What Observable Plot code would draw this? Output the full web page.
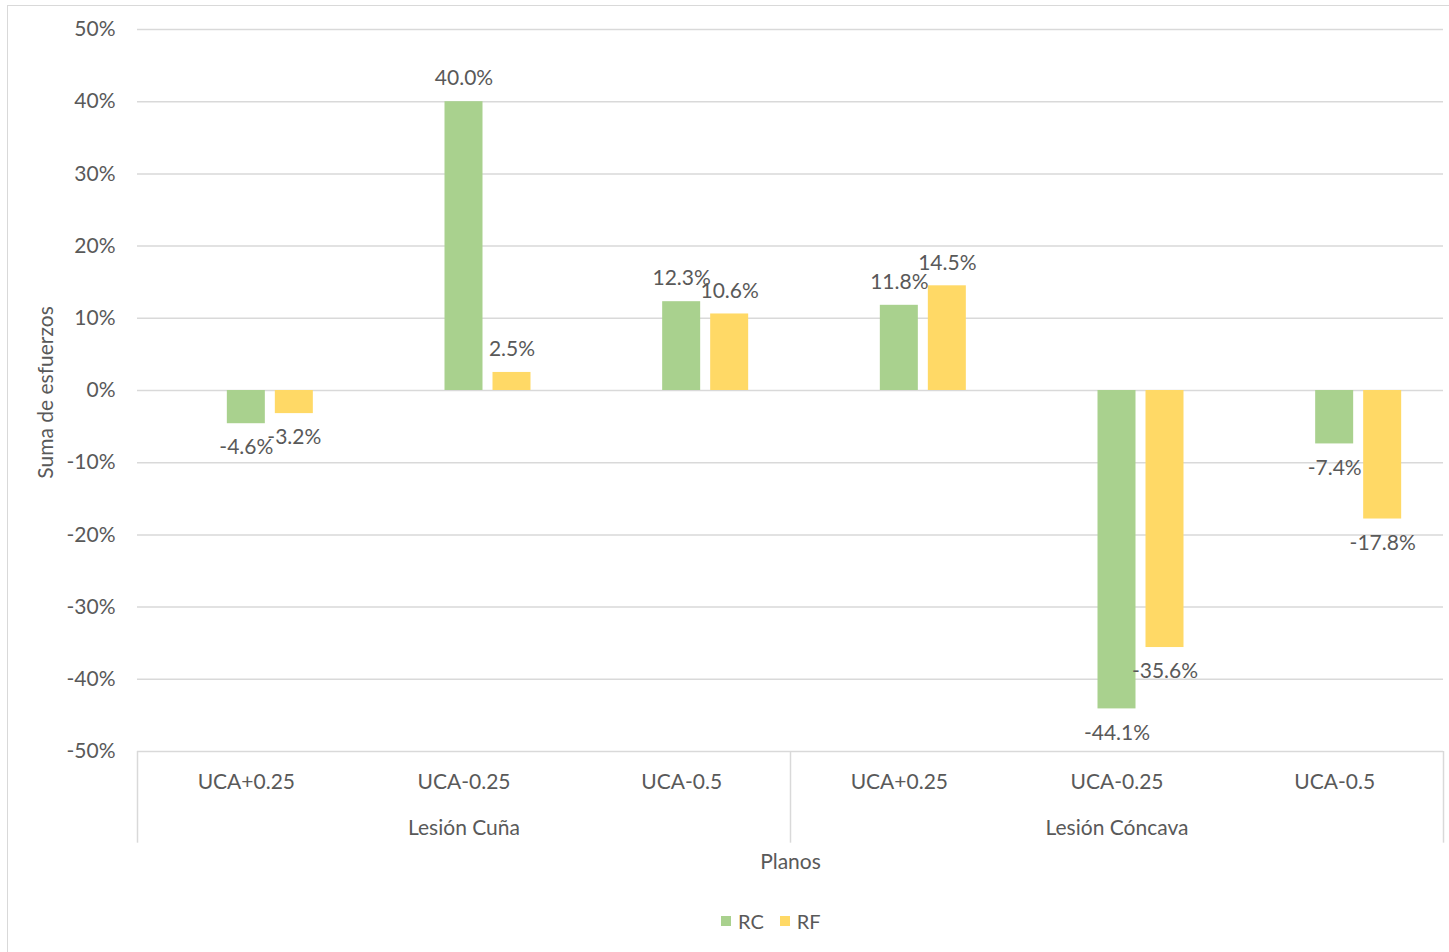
<!DOCTYPE html>
<html><head><meta charset="utf-8">
<script src="https://cdn.jsdelivr.net/npm/d3@7"></script>
<script src="https://cdn.jsdelivr.net/npm/@observablehq/plot@0.6"></script>
<style>
html,body{margin:0;padding:0;background:#fff;overflow:hidden;}
body{width:1449px;height:952px;position:relative;font-family:Lato,sans-serif;}
#frame{position:absolute;left:7px;top:5px;width:1500px;height:1000px;border:1.5px solid #d9d9d9;box-sizing:border-box;}
#chart{position:absolute;left:0;top:0;}
#legend{position:absolute;top:909px;left:721px;display:flex;align-items:center;font-family:Lato,sans-serif;font-size:20px;color:#595959;}
#legend .sw{width:10px;height:10px;display:inline-block;margin-right:7px;}
#legend .item{display:flex;align-items:center;margin-right:16px;}
</style></head><body>
<div id="frame"></div>
<div id="chart"></div>
<div id="legend"></div>
<script>
const groups = ["Lesión Cuña","Lesión Cuña","Lesión Cuña","Lesión Cóncava","Lesión Cóncava","Lesión Cóncava"];
const planes = ["UCA+0.25","UCA-0.25","UCA-0.5","UCA+0.25","UCA-0.25","UCA-0.5"];
const seriesNames = ["RC","RF"];
const seriesColors = ["#a9d18e","#ffd966"];
const rc = [-4.6, 40.0, 12.3, 11.8, -44.1, -7.4];
const rf = [-3.2, 2.5, 10.6, 14.5, -35.6, -17.8];
const yTicks = [-50,-40,-30,-20,-10,0,10,20,30,40,50];

const keys = planes.map((_, i) => i);
const data = keys.flatMap(i => [
  {key: i, series: "RC", value: rc[i]},
  {key: i, series: "RF", value: rf[i]}
]);

const W = 1449, H = 880, ML = 137, MR = 6, MT = 29, MB = 129;
const bw = (W - ML - MR) / keys.length;
const barW = 38, rfShift = 48;
const inset = (bw - barW) / 2;
const fmt = v => v.toFixed(1) + "%";
const grey = "#595959";

// group spans
const groupNames = [...new Set(groups)];
const groupMid = groupNames.map(g => {
  const idx = keys.filter(i => groups[i] === g);
  return {g, key: (idx[0] + idx[idx.length - 1]) / 2};
});
const groupStarts = keys.filter(i => i === 0 || groups[i] !== groups[i - 1]);
const lastKey = keys[keys.length - 1];
const sepBottom = -62.7;

function seriesMarks(name, shift) {
  const rows = data.filter(d => d.series === name);
  return [
    Plot.barY(rows, {x: "key", y: "value", fill: "series", insetLeft: inset, insetRight: inset, dx: shift}),
    Plot.text(rows.filter(d => d.value >= 0), {x: "key", y: "value", text: d => fmt(d.value), dx: shift, dy: -23, fill: grey}),
    Plot.text(rows.filter(d => d.value < 0), {x: "key", y: "value", text: d => fmt(d.value), dx: shift, dy: 24, fill: grey})
  ];
}

const chart = Plot.plot({
  width: W, height: H,
  marginLeft: ML, marginRight: MR, marginTop: MT, marginBottom: MB,
  style: {fontFamily: "Lato, sans-serif", fontSize: "21px", color: grey, background: "transparent", overflow: "visible"},
  x: {type: "band", domain: keys, padding: 0, round: false, axis: null},
  y: {domain: [-50, 50], axis: null},
  color: {domain: seriesNames, range: seriesColors},
  marks: [
    Plot.ruleY(yTicks, {stroke: "#d9d9d9", strokeWidth: 1.5}),
    Plot.axisY({ticks: yTicks, tickFormat: d => d + "%", tickSize: 0, tickPadding: 22, fontSize: 21, label: null}),
    ...seriesMarks("RC", 0),
    ...seriesMarks("RF", rfShift),
    Plot.ruleX(groupStarts, {x: d => d, dx: -bw / 2, y1: -50, y2: sepBottom, stroke: "#d9d9d9", strokeWidth: 1.5}),
    Plot.ruleX([lastKey], {x: d => d, dx: bw / 2, y1: -50, y2: sepBottom, stroke: "#d9d9d9", strokeWidth: 1.5}),
    Plot.text(keys, {x: d => d, text: d => planes[d], frameAnchor: "bottom", dy: 37, fill: grey}),
    Plot.text(groupMid, {x: d => d.key, text: d => d.g, frameAnchor: "bottom", dy: 83, fill: grey}),
    Plot.text(["Planos"], {frameAnchor: "bottom", dy: 117, fill: grey}),
    Plot.text(["Suma de esfuerzos"], {frameAnchor: "left", textAnchor: "middle", rotate: -90, dx: -91, dy: 2, fill: grey, fontSize: 21})
  ]
});
document.getElementById("chart").appendChild(chart);

const cs = chart.scale("color");
const leg = d3.select("#legend");
cs.domain.forEach((name, i) => {
  const it = leg.append("div").attr("class", "item");
  it.append("span").attr("class", "sw").style("background", cs.range[i]);
  it.append("span").text(name);
});
</script>
</body></html>
